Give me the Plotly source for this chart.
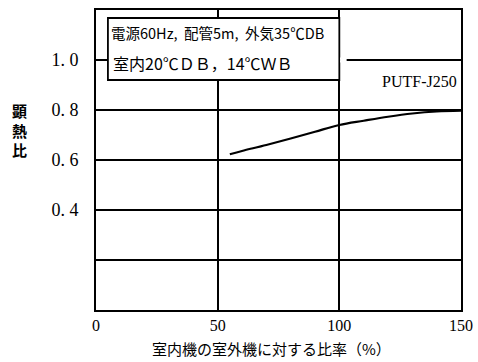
import plotly.graph_objects as go

ratio_pct = [55, 60, 70, 80, 90, 100, 110, 120, 130, 140, 150]
shr = [0.623, 0.636, 0.660, 0.686, 0.713, 0.740, 0.757, 0.773, 0.786, 0.794, 0.797]

x_ticks = [0, 50, 100, 150]
x_ticktext = ["0", "50", "100", "150"]
y_ticks = [0.2, 0.4, 0.6, 0.8, 1.0]
y_ticktext = ["", "0. 4", "0. 6", "0. 8", "1. 0"]

cond_line1 = "電源60Hz,  配管5m,  外気35℃DB"
cond_line2 = "室内20℃ＤＢ，14℃ＷＢ"
series_name = "PUTF-J250"
x_title = "室内機の室外機に対する比率（%）"
y_title = "<b>顕<br>熱<br>比</b>"

serif = "Liberation Serif, Noto Sans CJK JP"
cjk = "Noto Sans CJK JP"

fig = go.Figure()
fig.add_trace(go.Scatter(x=ratio_pct, y=shr, mode="lines",
                         line=dict(color="black", width=2.2, shape="spline"),
                         showlegend=False, hoverinfo="skip"))

fig.update_layout(
    width=478, height=362,
    margin=dict(l=96, r=17, t=10, b=52, autoexpand=False),
    paper_bgcolor="white", plot_bgcolor="white",
    font=dict(family=serif, color="black", size=16),
)
fig.update_xaxes(range=[0, 150], tickvals=x_ticks, ticktext=x_ticktext,
                 showgrid=True, gridcolor="black", gridwidth=1.5,
                 showline=True, linecolor="black", linewidth=2, mirror=True,
                 ticks="", ticklabelstandoff=0, tickfont=dict(size=16, family=serif),
                 automargin=False, zeroline=False)
fig.update_yaxes(range=[0, 1.2], tickvals=y_ticks, ticktext=y_ticktext,
                 showgrid=True, gridcolor="black", gridwidth=1.5,
                 showline=True, linecolor="black", linewidth=2, mirror=True,
                 ticks="", ticklabelstandoff=12, tickfont=dict(size=18, family=serif),
                 automargin=False, zeroline=False)

# condition box
fig.add_shape(type="rect", xref="x", yref="y", x0=4.9, x1=100, y0=0.92, y1=1.168,
              fillcolor="white", line=dict(color="black", width=1.8), layer="above")
fig.add_annotation(xref="x", yref="y", x=5.2, y=1.11, text=cond_line1, showarrow=False,
                   xanchor="left", yanchor="middle",
                   font=dict(size=14.5, family=cjk, color="black"))
fig.add_annotation(xref="x", yref="y", x=6.2, y=0.99, text=cond_line2, showarrow=False,
                   xanchor="left", yanchor="middle",
                   font=dict(size=16, family=cjk, color="black"))
# gap in 1.0 gridline next to the box
fig.add_shape(type="rect", xref="x", yref="y", x0=100.3, x1=103, y0=0.99, y1=1.01,
              fillcolor="white", line=dict(width=0), layer="above")
fig.add_annotation(xref="x", yref="y", x=149, y=0.915, text=series_name, showarrow=False,
                   xanchor="right", yanchor="middle",
                   font=dict(size=16, family=serif, color="black"))
# axis titles
fig.add_annotation(xref="paper", yref="paper", x=-0.21, y=0.6, text=y_title, showarrow=False,
                   xanchor="center", yanchor="middle", align="center",
                   font=dict(size=15, family=cjk, color="black"))
fig.add_annotation(xref="paper", yref="paper", x=0.48, y=-0.13, text=x_title, showarrow=False,
                   xanchor="center", yanchor="middle",
                   font=dict(size=15, family=cjk, color="black"))

fig.write_html("out.html", config={"displayModeBar": False},
               post_script="document.body.style.margin='0';document.body.style.overflow='hidden';")
